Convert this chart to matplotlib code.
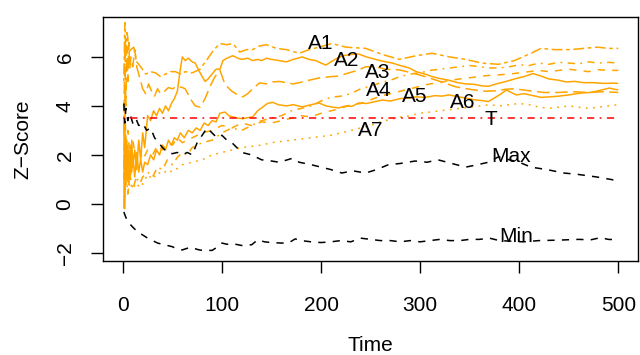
import numpy as np
import matplotlib
matplotlib.use("Agg")
import matplotlib.pyplot as plt

plt.rcParams['font.family'] = ['Liberation Sans', 'DejaVu Sans']
plt.rcParams['lines.scale_dashes'] = False

# z-score traces of the seven series (time, value)
t_a1 = [1,2,3,4,5,6,7,8,9,10,12,14,16,18,20,22,25,28,31,34,37,40,43,46,49,52,55,58,60,63,66,70,73,76,80,83,86,90,94,98,
        101,105,111,116,120,126,131,136,140,145,150,158,165,172,181,188,195,200,205,210,215,222,230,238,246,255,263,272,
        280,289,296,305,312,320,329,338,346,355,362,369,377,385,397,405,414,422,430,440,447,456,465,475,485,496,500]
z_a1 = [3.6,-0.2,2.8,1.0,2.4,0.8,2.0,1.2,2.6,1.5,2.2,1.4,2.6,1.8,2.9,2.3,3.6,3.4,3.8,3.6,3.9,3.7,4.0,3.8,4.1,4.3,4.6,5.5,6.0,
        5.85,5.95,5.8,5.75,5.5,5.2,5.0,5.1,5.3,5.5,5.5,5.85,5.95,6.05,5.95,5.9,5.95,5.85,5.9,5.85,5.95,5.9,5.85,5.8,5.9,
        6.0,5.9,5.85,5.75,5.67,5.8,5.92,6.05,6.1,6.12,6.0,5.9,5.82,5.75,5.65,5.55,5.4,5.3,5.2,5.12,5.05,4.95,4.9,4.88,
        4.82,4.8,4.9,4.98,5.12,5.2,5.32,5.22,5.1,5.05,4.98,5.0,4.95,4.95,4.92,4.93,4.92]

t_a2 = [1,2,3,4,5,6,7,8,10,12,14,16,18,20,23,26,29,32,35,38,42,46,50,55,60,63,68,73,78,83,88,93,98,102,105,110,116,121,
        126,131,138,145,151,158,165,172,178,188,198,211,218,228,237,245,255,265,279,292,305,320,336,350,365,378,386,395,
        410,425,440,455,470,485,500]
z_a2 = [3.0,6.5,4.0,6.4,5.0,6.6,5.5,6.0,5.6,6.3,5.6,5.3,5.0,4.7,4.5,4.9,4.6,4.4,4.7,4.5,4.6,4.75,4.7,4.8,4.75,4.7,4.3,
        4.0,3.95,4.3,4.8,5.2,5.45,5.0,4.8,4.6,4.45,4.37,4.5,4.7,4.94,4.9,4.98,5.0,4.95,4.9,4.95,5.05,5.14,5.2,5.22,5.35,
        5.45,5.6,5.6,5.5,5.47,5.35,5.2,5.0,4.78,4.68,4.6,4.62,4.68,4.7,4.62,4.55,4.55,4.58,4.55,4.58,4.55]

t_a3 = [1,2,3,5,7,10,13,16,20,25,30,35,40,45,50,55,60,65,70,80,90,100,110,120,130,140,150,160,170,180,190,200,210,220,
        230,240,250,260,270,280,290,300,310,320,330,340,350,360,370,380,390,400,410,420,430,440,450,460,470,480,490,500]
z_a3 = [2.0,0.5,1.5,0.4,1.2,0.6,1.0,0.7,1.1,1.3,1.1,1.5,1.4,1.8,1.6,1.9,2.1,2.0,2.3,2.5,2.6,2.9,3.1,3.0,3.2,3.4,3.5,3.6,
        3.8,3.9,4.0,4.2,4.35,4.4,4.5,4.7,4.8,4.95,5.05,5.2,5.3,5.35,5.45,5.5,5.55,5.6,5.65,5.6,5.55,5.55,5.6,5.68,5.65,
        5.75,5.7,5.78,5.75,5.72,5.8,5.75,5.78,5.75]

t_a4 = [1,2,3,4,5,6,8,11,14,18,23,28,33,38,43,48,53,58,63,70,78,85,92,98,105,111,118,125,131,138,145,155,165,178,188,
        198,211,225,245,262,279,296,312,330,346,362,379,395,412,422,435,452,465,479,490,500]
z_a4 = [5.0,7.4,6.0,7.0,6.8,6.2,6.3,6.4,5.8,5.6,5.3,5.4,5.35,5.2,5.3,5.4,5.4,5.3,5.4,5.35,5.5,5.9,6.3,6.55,6.5,6.55,6.2,
        6.3,6.3,6.45,6.5,6.35,6.3,6.15,6.3,6.4,6.55,6.4,6.35,6.1,5.9,6.05,6.15,6.0,5.9,5.75,5.7,5.85,6.15,6.35,6.3,6.3,
        6.35,6.4,6.35,6.35]

t_a5 = [1,2,3,5,7,10,13,16,20,25,30,35,40,45,50,55,60,70,80,90,100,110,120,130,140,150,160,170,180,190,200,210,220,
        230,240,250,260,270,280,290,300,310,320,330,340,350,360,370,380,390,400,410,420,430,440,450,460,470,480,490,500]
z_a5 = [1.0,4.5,2.5,3.0,2.0,2.6,1.9,2.3,1.8,2.2,2.0,2.4,2.2,2.5,2.4,2.7,2.5,2.7,2.9,3.0,3.2,3.1,3.3,3.2,3.35,3.3,3.4,
        3.5,3.6,3.55,3.7,3.8,3.9,4.05,4.1,4.25,4.4,4.5,4.6,4.7,4.8,4.9,4.95,5.05,5.1,5.15,5.2,5.25,5.27,5.3,5.35,5.4,
        5.45,5.4,5.45,5.5,5.45,5.4,5.48,5.45,5.45]

t_a6 = [1,2,3,5,7,10,15,20,25,30,35,40,45,50,60,70,80,90,100,110,120,130,140,150,160,170,180,190,200,210,220,230,240,
        250,260,270,280,290,300,310,320,330,340,350,360,370,380,390,400,410,420,430,440,450,460,470,480,490,500]
z_a6 = [1.5,0.3,1.0,0.5,0.9,0.6,1.0,0.8,1.2,1.0,1.3,1.2,1.4,1.3,1.6,1.7,1.8,2.0,2.1,2.2,2.3,2.35,2.4,2.5,2.55,2.6,
        2.65,2.7,2.75,2.8,2.9,3.0,3.1,3.2,3.35,3.45,3.55,3.6,3.7,3.75,3.8,3.85,3.9,3.95,4.0,4.05,4.0,4.05,4.1,4.05,3.95,
        3.9,3.95,4.0,3.95,3.9,3.95,4.0,4.05]

t_a7 = [1,2,3,4,5,6,7,8,9,10,12,14,16,18,20,22,25,28,31,34,37,40,43,46,49,52,55,58,62,66,70,74,78,82,86,90,94,98,103,
        107,111,116,121,126,131,136,141,146,151,157,165,172,181,190,198,205,212,218,225,231,238,246,255,262,270,280,288,
        296,305,315,322,329,338,346,355,362,369,376,382,387,392,397,405,414,422,431,440,450,458,464,472,480,486,491,496,500]
z_a7 = [-0.2,3.3,0.8,2.6,0.9,2.2,1.0,2.4,1.3,2.0,1.1,2.1,1.3,1.8,1.3,1.7,1.6,2.0,1.8,2.2,2.0,2.4,2.2,2.6,2.4,2.7,2.6,
        2.9,2.7,3.0,2.9,3.1,3.0,3.3,3.2,3.4,3.35,3.7,3.75,3.6,3.55,3.5,3.48,3.52,3.55,3.8,3.95,4.1,4.15,4.05,4.0,4.05,
        3.96,4.05,4.12,4.0,3.95,3.92,4.0,3.98,4.12,4.1,4.18,4.24,4.2,4.3,4.32,4.37,4.35,4.42,4.4,4.45,4.38,4.32,4.25,
        4.22,4.18,4.35,4.5,4.65,4.55,4.45,4.5,4.42,4.35,4.37,4.4,4.45,4.5,4.53,4.55,4.62,4.68,4.73,4.68,4.66]

# running max / min envelopes and threshold
t_max = [1,2,3,5,7,10,13,16,20,24,28,32,36,40,45,50,55,60,65,70,75,80,85,90,95,100,105,110,120,130,140,150,158,171,
         178,190,200,210,221,232,245,256,268,280,295,307,318,332,346,358,369,379,390,400,412,428,445,460,478,495,500]
z_max = [4.1,3.3,3.9,3.4,3.7,3.3,3.5,3.2,3.3,3.0,3.1,2.7,2.5,2.3,2.1,2.05,2.1,2.0,2.1,2.0,2.5,2.8,3.1,2.9,2.7,2.8,
         2.6,2.5,2.1,2.0,1.8,1.75,1.7,1.86,1.7,1.6,1.5,1.4,1.26,1.35,1.26,1.4,1.6,1.65,1.75,1.7,1.8,1.65,1.5,1.6,1.7,
         1.92,1.8,1.7,1.5,1.4,1.26,1.2,1.1,0.98,1.0]
t_min = [1,3,5,10,15,20,25,30,35,40,45,50,55,60,66,70,75,80,90,96,100,105,110,120,130,136,143,150,160,167,174,180,
         190,200,210,220,230,240,250,260,270,280,290,300,310,320,330,340,350,360,370,380,390,404,420,440,460,472,482,
         490,500]
z_min = [-0.33,-0.55,-0.73,-0.95,-1.15,-1.27,-1.4,-1.5,-1.6,-1.65,-1.7,-1.75,-1.85,-1.88,-1.8,-1.78,-1.86,-1.9,-1.9,
         -1.75,-1.6,-1.65,-1.62,-1.7,-1.67,-1.47,-1.55,-1.58,-1.6,-1.6,-1.43,-1.5,-1.55,-1.58,-1.55,-1.5,-1.55,-1.4,
         -1.45,-1.5,-1.5,-1.55,-1.5,-1.55,-1.5,-1.45,-1.5,-1.5,-1.45,-1.45,-1.4,-1.5,-1.52,-1.55,-1.5,-1.48,-1.45,
         -1.47,-1.38,-1.45,-1.47]
threshold = 3.5

lab_text = ["A1", "A2", "A3", "A4", "A5", "A6", "A7", "T", "Max", "Min"]
lab_t = [200, 226, 257, 258, 295, 343, 250, 371, 392, 397]
lab_z = [6.55, 5.84, 5.35, 4.65, 4.4, 4.16, 2.98, 3.45, 1.92, -1.35]

orange = "#FFA500"
lw = 1.1
styles = [
    (0, ()),                       # solid
    (0, (9.1, 3.9)),               # long dash
    (0, (1.3, 3.9, 5.2, 3.9)),     # dot dash
    (0, (2.6, 2.6, 7.8, 2.6)),     # two dash
    (0, (5.2, 5.2)),               # dashed
    (0, (1.3, 3.9)),               # dotted
    (0, ()),                       # solid
]
series = [(t_a1, z_a1), (t_a2, z_a2), (t_a3, z_a3), (t_a4, z_a4), (t_a5, z_a5), (t_a6, z_a6), (t_a7, z_a7)]

fig = plt.figure(figsize=(6.4, 3.55), dpi=100)
ax = fig.add_axes([0.161, 0.265, 0.836, 0.687])

for (t, z), ls in zip(series, styles):
    ax.plot(t, z, color=orange, lw=lw, linestyle=ls)

ax.plot(t_max, z_max, color="black", lw=lw, linestyle=(0, (5.2, 5.2)))
ax.plot(t_min, z_min, color="black", lw=lw, linestyle=(0, (5.2, 5.2)))
ax.plot([0, 500], [threshold, threshold], color="red", lw=lw, linestyle=(0, (1.3, 3.9, 5.2, 3.9)))

fs = 15
for s, x, y in zip(lab_text, lab_t, lab_z):
    ax.text(x, y, s, ha="center", va="center", fontsize=fs, color="black")

ax.set_xlim(-20, 520)
ax.set_ylim(-2.33, 7.63)
ax.set_xticks([0, 100, 200, 300, 400, 500])
ax.set_yticks([-2, 0, 2, 4, 6])
for sp in ax.spines.values():
    sp.set_linewidth(1.0)
ax.tick_params(axis="both", length=8.5, width=1.0, labelsize=fs, direction="out")
ax.tick_params(axis="x", pad=17)
ax.tick_params(axis="y", pad=12)
plt.setp(ax.get_yticklabels(), rotation=90, va="center")
ax.set_xlabel("Time", fontsize=fs, labelpad=15)
ax.set_ylabel("Z\u2212Score", fontsize=fs, labelpad=17)

fig.savefig("out.png", dpi=100)
